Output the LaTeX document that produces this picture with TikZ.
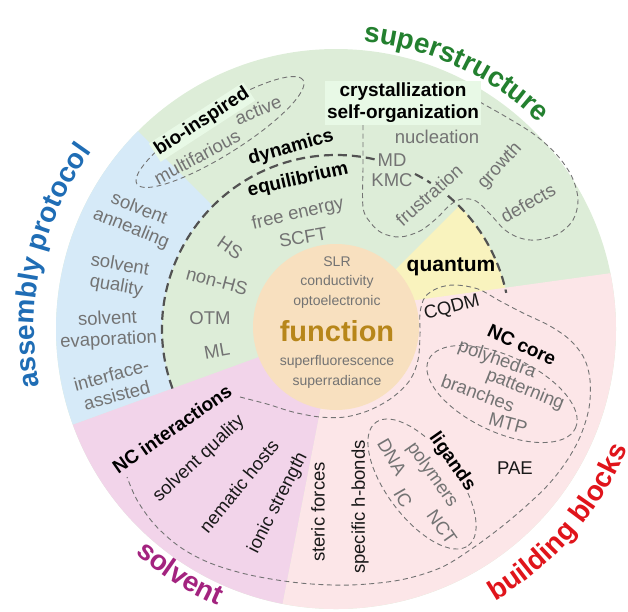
\documentclass[tikz,border=0pt]{standalone}
\usepackage{fontspec}
\setmainfont{Liberation Sans}
\usetikzlibrary{decorations.text}

\definecolor{ssgreen}{HTML}{DDEDD8}
\definecolor{apblue}{HTML}{D6EAF8}
\definecolor{svpink}{HTML}{F2D4EA}
\definecolor{bbpink}{HTML}{FCE6E8}
\definecolor{qyellow}{HTML}{F9F3BE}
\definecolor{fpeach}{HTML}{F8E0BF}
\definecolor{mint}{HTML}{E8F9E6}
\definecolor{txtgray}{HTML}{737373}
\definecolor{fngold}{HTML}{B7861A}
\definecolor{ttgreen}{HTML}{23802F}
\definecolor{ttblue}{HTML}{1F6DB5}
\definecolor{ttmag}{HTML}{A3237F}
\definecolor{ttred}{HTML}{E0141B}

\newcommand{\ttlfont}{\bfseries\fontsize{28}{30}\selectfont}

\tikzset{
  lab/.style={text=txtgray, font=\fontsize{18.5}{21}\selectfont, inner sep=1pt},
  blk/.style={text=black!90, font=\fontsize{18.5}{21}\selectfont, inner sep=1pt},
  key/.style={text=black, font=\bfseries\fontsize{19}{22}\selectfont, inner sep=1pt},
  fnlab/.style={text=txtgray, font=\fontsize{14}{16}\selectfont, inner sep=1pt},
  thinline/.style={draw=black!55, line width=0.9pt, dash pattern=on 5pt off 3.5pt},
  thickline/.style={draw=black!68, line width=2.2pt, dash pattern=on 9pt off 5pt}
}

\begin{document}
\begin{tikzpicture}[x=1pt,y=1pt]
\useasboundingbox (0,0) rectangle (628,-611);

% sectors
\begin{scope}[shift={(336,-329)}]
\fill[ssgreen] (0,0) circle (280);
\fill[apblue] (135:174) -- (135:280) arc[start angle=135, end angle=200, radius=280]
  -- (200:174) arc[start angle=200, end angle=135, radius=174] -- cycle;
\fill[svpink] (0,0) -- (200:280) arc[start angle=200, end angle=259, radius=280] -- cycle;
\fill[qyellow] (0,0) -- (45:174) arc[start angle=45, end angle=0, radius=174] -- cycle;
\fill[bbpink] (0,0) -- (259:280) arc[start angle=259, end angle=371.5, radius=280] -- (20:84) -- cycle;
\fill[fpeach] (0,2) circle (83);
%dynamics/equilibrium border
\draw[thickline] (200:174) arc[start angle=200, end angle=77, radius=174];
\draw[thickline] (63:174) arc[start angle=63, end angle=57, radius=174];
\draw[thickline] (50:174) arc[start angle=50, end angle=12, radius=174];
%titles
\path[decorate, decoration={text along path, text align=center, text color=ttgreen,
  text={|\ttlfont|superstructure}}] (100:289) arc[start angle=100, end angle=30, radius=289];
\path[decorate, decoration={text along path, text align=center, text color=ttblue,
  text={|\ttlfont|assembly protocol}}] (205:302) arc[start angle=205, end angle=130, radius=302];
\path[decorate, decoration={text along path, text align=center, text color=ttmag,
  text={|\ttlfont|solvent}}] (215:301) arc[start angle=215, end angle=260, radius=301];
\path[decorate, decoration={text along path, text align=center, text color=ttred,
  text={|\ttlfont|building blocks}}] (284:315) arc[start angle=284, end angle=354, radius=315];
\end{scope}

% dashed groups
\draw[thinline, rotate around={32:(220,-132)}] (220,-132) ellipse[x radius=98, y radius=23];
\draw[thinline] plot[smooth, tension=0.55] coordinates {(363,-125) (363,-165) (363,-207) (370,-222)
  (382,-233) (400,-237) (420,-231) (437,-218) (450,-205) (462,-199) (476,-201) (490,-214)
  (505,-230) (520,-238) (537,-240) (558,-234) (573,-220) (578,-200) (572,-177) (557,-155)
  (535,-135) (508,-118) (478,-101)};
\draw[thinline] plot[smooth, tension=0.55] coordinates {(240,-397) (267,-404) (293,-412)
  (320,-417) (345,-417) (370,-410) (393,-397) (410,-380) (418,-360) (420,-335) (420,-313)
  (425,-297) (438,-288) (455,-285) (478,-289) (500,-301) (523,-313) (550,-326) (570,-340)
  (584,-358) (590,-380) (589,-408) (580,-437) (566,-462) (548,-485) (525,-507) (500,-528)
  (470,-550) (440,-568) (400,-580) (350,-585) (300,-583) (250,-575) (210,-563) (180,-547)
  (155,-525) (137,-500) (127,-477)};
\draw[thinline, rotate around={-25:(502,-394)}] (502,-394) ellipse[x radius=81, y radius=38];
\draw[thinline, rotate around={-53:(422,-484)}] (422,-484) ellipse[x radius=77, y radius=35];

% superstructure
\node[key, fill=mint, rotate=33, inner sep=2pt] (bio) at (202,-122) {bio-inspired};
\node[lab, rotate=28] (multifarious) at (197,-157) {multifarious};
\node[lab, rotate=22] (active) at (258,-110) {active};
\node[key, fill=mint, align=center, inner sep=2pt] (cryst) at (403,-103) {crystallization\\self-organization};
\node[lab] (nucleation) at (437,-137) {nucleation};
\node[lab] (md) at (392,-160) {MD};
\node[lab] (kmc) at (392,-180) {KMC};
\node[lab, rotate=42] (frustration) at (429,-195) {frustration};
\node[lab, rotate=48] (growth) at (500,-166) {growth};
\node[lab, rotate=30] (defects) at (528,-203) {defects};

% dynamics
\node[key, rotate=16] (dynamics) at (291,-148) {dynamics};
\node[key, rotate=13] (equilibrium) at (298,-180) {equilibrium};
\node[lab, rotate=13] (freeenergy) at (298,-214) {free energy};
\node[lab, rotate=10] (scft) at (303,-237) {SCFT};
\node[lab, rotate=-35] (hs) at (230,-248) {HS};
\node[lab, rotate=-15] (nonhs) at (217,-281) {non-HS};
\node[lab] (otm) at (210,-318) {OTM};
\node[lab, rotate=10] (ml) at (217,-351) {ML};

% assembly protocol
\node[lab, rotate=-22, align=center] (annealing) at (135,-219) {solvent\\annealing};
\node[lab, rotate=-10, align=center] (squality) at (118,-276) {solvent\\quality};
\node[lab, rotate=3, align=center] (evaporation) at (108,-330) {solvent\\evaporation};
\node[lab, rotate=15, align=center] (interface) at (114,-385) {interface-\\assisted};

% solvent
\node[key, rotate=35] (ncint) at (172,-429) {NC interactions};
\node[blk, rotate=43] (solvq) at (199,-459) {solvent quality};
\node[blk, rotate=51] (nematic) at (239,-486) {nematic hosts};
\node[blk, rotate=63] (ionic) at (278,-503) {ionic strength};
\node[blk, rotate=90] (steric) at (318,-512) {steric forces};
\node[blk, rotate=90] (hbonds) at (360,-507) {specific h-bonds};

% quantum
\node[key, font=\bfseries\fontsize{21}{24}\selectfont] (quantum) at (451,-267) {quantum};
\node[blk, rotate=15] (cqdm) at (452,-308) {CQDM};

% building blocks
\node[key, fill=bbpink, rotate=-25] (nccore) at (522,-345) {NC core};
\node[lab, rotate=-20] (polyhedra) at (497,-360) {polyhedra};
\node[lab, rotate=-22] (patterning) at (525,-390) {patterning};
\node[lab, rotate=-20] (branches) at (478,-393) {branches};
\node[lab, rotate=-15] (mtp) at (508,-423) {MTP};
\node[key, fill=bbpink, rotate=-55] (ligands) at (452,-462) {ligands};
\node[lab, rotate=-60] (dna) at (392,-457) {DNA};
\node[lab, rotate=-55] (polymers) at (432,-475) {polymers};
\node[lab, rotate=-60] (ic) at (403,-498) {IC};
\node[lab, rotate=-55] (nct) at (442,-527) {NCT};
\node[blk] (pae) at (515,-468) {PAE};

% function
\node[fnlab] (slr) at (337,-262) {SLR};
\node[fnlab] (conductivity) at (337,-282) {conductivity};
\node[fnlab] (opto) at (337,-302) {optoelectronic};
\node[text=fngold, font=\bfseries\fontsize{29}{32}\selectfont] (function) at (337,-331) {function};
\node[fnlab] (superfl) at (337,-362) {superfluorescence};
\node[fnlab] (superrad) at (337,-382) {superradiance};
\end{tikzpicture}
\end{document}
